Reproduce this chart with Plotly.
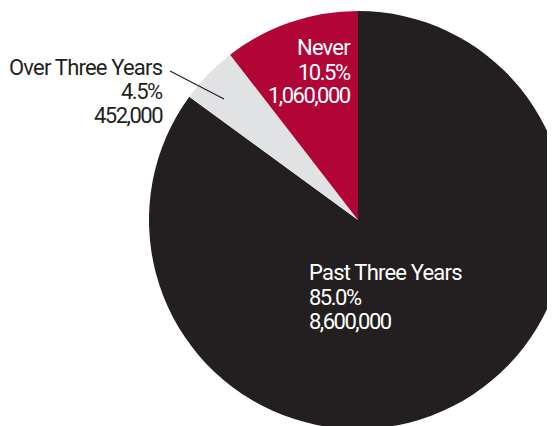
import plotly.graph_objects as go

labels = ["Past Three Years", "Over Three Years", "Never"]
counts = [8600000, 452000, 1060000]
shares = ["85.0%", "4.5%", "10.5%"]
colors = ["#231f20", "#e1e2e4", "#b10538"]

# page body has an 8px margin, so positions below are page pixels minus 8
OFF = 8
W, H = 560, 422
FONT = "Roboto, Arial, sans-serif"
SIZE = 22


def px(x, y):
    return (x - OFF) / W, 1 - (y - OFF) / H


fig = go.Figure(
    go.Pie(
        labels=labels,
        values=counts,
        marker=dict(colors=colors, line=dict(width=0)),
        sort=False,
        direction="clockwise",
        rotation=0,
        textinfo="none",
        hoverinfo="label+percent+value",
        showlegend=False,
        domain=dict(x=[(149 - OFF) / W, (567 - OFF) / W],
                    y=[1 - (429 - OFF) / H, 1 - (11 - OFF) / H]),
    )
)


def label_lines(i):
    return [
        f'<span style="letter-spacing:-0.8px">{labels[i]}</span>',
        f'<span style="letter-spacing:-1.5px">{shares[i]}</span>',
        f'<span style="letter-spacing:-1.5px">{counts[i]:,}</span>',
    ]


notes = [
    # index, x, line centres, anchor, colour
    (0, 307, [272.5, 297, 321.5], "left", "#ffffff"),
    (2, 353, [47, 72, 96], "right", "#ffffff"),
    (1, 165, [67, 91.7, 116], "right", "#231f20"),
]
for i, x, ys, anchor, color in notes:
    for line, y in zip(label_lines(i), ys):
        ax, ay = px(x, y)
        fig.add_annotation(
            x=ax,
            y=ay,
            xref="paper",
            yref="paper",
            text=line,
            showarrow=False,
            xanchor=anchor,
            yanchor="middle",
            font=dict(family=FONT, size=SIZE, color=color),
        )

x0, y0 = px(170, 71)
x1, y1 = px(224, 99)
fig.add_shape(
    type="line", xref="paper", yref="paper",
    x0=x0, y0=y0, x1=x1, y1=y1,
    line=dict(color="#231f20", width=1.2),
)

fig.update_layout(
    width=W,
    height=H,
    margin=dict(l=0, r=0, t=0, b=0),
    paper_bgcolor="#ffffff",
    plot_bgcolor="#ffffff",
)
fig.write_html("out.html")
